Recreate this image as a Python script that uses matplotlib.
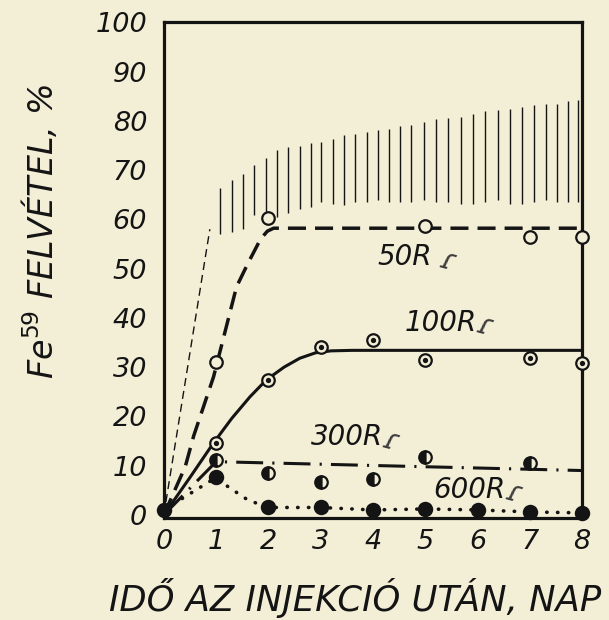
import matplotlib.pyplot as plt

# measured uptake points (days after injection, Fe59 uptake %)
r50_x = [1, 2, 5, 7, 8]
r50_y = [31.0, 60.2, 58.6, 56.5, 56.5]
r100_x = [1, 2, 3, 4, 5, 7, 8]
r100_y = [14.6, 27.4, 34.1, 35.5, 31.4, 31.8, 30.8]
r300_x = [1, 2, 3, 4, 5, 7]
r300_y = [11.2, 8.5, 6.6, 7.3, 11.8, 10.5]
r600_x = [0, 1, 2, 3, 4, 5, 6, 7, 8]
r600_y = [1.0, 7.6, 1.5, 1.5, 1.0, 1.2, 1.0, 0.6, 0.4]

# hand-fitted curves
fit50_x = [0, 0.41, 0.57, 0.95, 1.39, 1.61, 1.85, 1.98, 2.1, 8]
fit50_y = [0, 9.8, 16.0, 28.0, 46.3, 51.1, 56.0, 57.6, 58.2, 58.2]
fit100_x = [0, 0.5, 0.95, 1.3, 1.65, 1.96, 2.3, 2.6, 2.9, 3.2, 3.6, 8]
fit100_y = [0, 7.6, 14.6, 19.6, 24.0, 27.4, 30.0, 31.8, 32.9, 33.3, 33.4, 33.4]
fit300_x = [0, 1, 8]
fit300_y = [0, 10.8, 9.0]
fit600_x = [0, 1, 1.23, 1.61, 2, 3, 4, 5, 6, 7, 8]
fit600_y = [1.0, 7.6, 5.7, 3.0, 1.5, 1.5, 1.0, 1.2, 1.0, 0.6, 0.4]

# control range (thin dashed rise + hatched band)
ctrl_x = [0, 0.88]
ctrl_y = [0, 58.0]
hatch_x = [1.07, 1.30, 1.52, 1.73, 1.95, 2.17, 2.37, 2.60, 2.81, 3.01, 3.23,
           3.45, 3.66, 3.89, 4.09, 4.31, 4.52, 4.72, 4.98, 5.21, 5.44, 5.69,
           5.92, 6.15, 6.39, 6.62, 6.85, 7.07, 7.31, 7.52, 7.73, 7.92]
hatch_top = [66.3, 68.0, 69.3, 71.0, 72.4, 74.0, 74.7, 74.9, 75.4, 75.7, 76.4,
             77.1, 77.4, 77.8, 78.1, 78.4, 78.9, 79.1, 79.8, 80.3, 80.5, 80.8,
             81.3, 81.9, 82.2, 82.5, 82.8, 83.2, 83.5, 83.4, 84.0, 84.2]
hatch_bot = [57.1, 57.4, 58.1, 60.9, 61.2, 60.5, 61.2, 62.2, 62.5, 63.6, 63.2,
             62.9, 63.6, 63.6, 63.9, 63.6, 63.6, 63.6, 63.9, 63.6, 63.6, 63.2,
             63.1, 63.6, 63.9, 63.2, 63.2, 63.6, 63.9, 63.6, 63.6, 63.6]

curve_labels = ['50R', '100R', '300R', '600R']
label_x = [4.6, 5.3, 3.5, 5.85]
label_y = [52.3, 39.0, 15.8, 5.1]

x_ticks = list(range(0, 9))
y_ticks = list(range(0, 101, 10))

ink = '#141414'
paper = '#f3eed6'
font = {'family': 'DejaVu Sans', 'style': 'oblique'}

fig = plt.figure(figsize=(6.09, 6.20), dpi=100, facecolor=paper)
ax = fig.add_axes([0.269, 0.164, 0.687, 0.800])
ax.set_facecolor(paper)

# control band
ax.plot(ctrl_x, ctrl_y, color=ink, lw=1.0, linestyle=(0, (5.8, 3.6)))
ax.vlines(hatch_x, hatch_bot, hatch_top, color=ink, lw=1.0)

# fitted curves
ax.plot(fit50_x, fit50_y, color=ink, lw=2.5, linestyle=(0, (5.2, 2.6)))
ax.plot(fit100_x, fit100_y, color=ink, lw=2.2, solid_capstyle='round',
        solid_joinstyle='round')
ax.plot(fit300_x, fit300_y, color=ink, lw=2.2, linestyle=(0, (8.8, 3, 0.7, 3)))
ax.plot(fit600_x, fit600_y, color=ink, lw=2.6, linestyle=(0, (0.1, 2.9)),
        dash_capstyle='round')

# data points
mk = dict(linestyle='none', markeredgecolor=ink, markeredgewidth=1.6, zorder=5,
          clip_on=False)
ax.plot(r50_x, r50_y, marker='o', markersize=9, markerfacecolor=paper, **mk)
ax.plot(r100_x, r100_y, marker='o', markersize=9, markerfacecolor=paper, **mk)
ax.plot(r100_x, r100_y, marker='o', markersize=3.8, markerfacecolor=ink,
        linestyle='none', markeredgewidth=0, zorder=6, clip_on=False)
ax.plot(r300_x, r300_y, marker='o', markersize=9, fillstyle='left',
        markerfacecolor=ink, markerfacecoloralt=paper, **mk)
ax.plot(r600_x, r600_y, marker='o', markersize=9.5, markerfacecolor=ink, **mk)

for txt, lx, ly in zip(curve_labels, label_x, label_y):
    ax.text(lx, ly, txt, ha='center', va='center', fontsize=20, color=ink, **font)
    ax.text(lx + 0.85, ly - 0.8, 'ɾ', ha='center', va='center', fontsize=21,
            color='#3d3d3d', rotation=-15, fontweight='light', **font)

ax.set_xlim(0, 8)
ax.set_ylim(-0.7, 100)
ax.set_xticks(x_ticks)
ax.set_yticks(y_ticks)
ax.set_xticklabels([str(v) for v in x_ticks], fontsize=19.5, color=ink, **font)
ax.set_yticklabels([str(v) for v in y_ticks], fontsize=19.5, color=ink, **font)
ax.tick_params(axis='y', length=0, pad=12)
ax.tick_params(axis='x', length=0, pad=8)
for s in ax.spines.values():
    s.set_linewidth(2.3)
    s.set_color(ink)

fig.text(0.583, 0.035, 'IDŐ AZ INJEKCIÓ UTÁN, NAP', ha='center', va='center',
         fontsize=25.5, color=ink, **font)
fig.text(0.066, 0.627, 'Fe$^{59}$ FELVÉTEL, %', ha='center', va='center',
         rotation=90, fontsize=24, color=ink, **font)

fig.savefig('out.png', dpi=100, facecolor=paper)
